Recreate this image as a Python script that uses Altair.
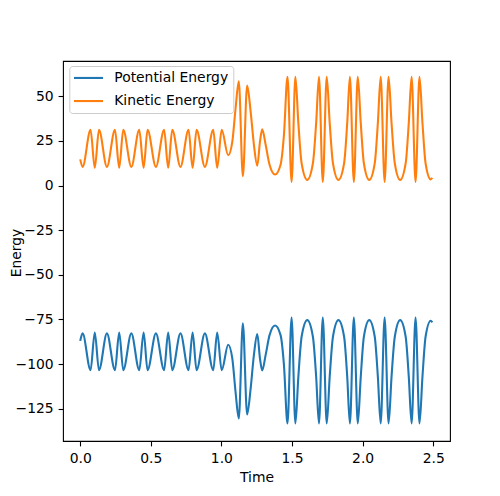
import altair as alt
import pandas as pd

# ---- data ----
time = [
    0.000, 0.017, 0.073, 0.103, 0.133, 0.189, 0.246, 0.276, 0.305, 0.362,
    0.418, 0.449, 0.477, 0.536, 0.594, 0.623, 0.652, 0.710, 0.767, 0.796,
    0.824, 0.883, 0.942, 0.970, 1.002, 1.048, 1.077, 1.100, 1.123, 1.152,
    1.182, 1.207, 1.230, 1.254, 1.273, 1.289, 1.313, 1.341, 1.380, 1.419,
    1.443, 1.468, 1.497, 1.524, 1.545, 1.568, 1.608, 1.648, 1.671, 1.691,
    1.718, 1.746, 1.767, 1.790, 1.829, 1.869, 1.891, 1.910, 1.938, 1.966,
    1.987, 2.009, 2.047, 2.086, 2.108, 2.128, 2.156, 2.184, 2.205, 2.228,
    2.266, 2.305, 2.327, 2.347, 2.375, 2.403, 2.424, 2.446, 2.482, 2.494,
]
potential = [
    -87.0, -82.8, -103.4, -82.3, -103.4, -82.8, -103.4, -82.3, -103.4, -82.8,
    -103.4, -82.3, -103.4, -82.8, -103.4, -82.3, -103.4, -82.8, -103.4, -82.3,
    -103.4, -82.8, -103.4, -82.3, -103.4, -89.2, -96.8, -115.5, -130.5, -77.2,
    -128.2, -113.7, -95.0, -83.2, -96.8, -103.6, -95.0, -83.8, -78.4, -83.8,
    -100.6, -133.3, -73.9, -133.3, -107.0, -84.7, -75.4, -84.7, -107.0, -133.3,
    -73.9, -133.3, -107.0, -84.7, -75.4, -84.7, -107.0, -133.3, -73.9, -133.3,
    -107.0, -84.7, -75.4, -84.7, -107.0, -133.3, -73.9, -133.3, -107.0, -84.7,
    -75.4, -84.7, -107.0, -133.3, -73.9, -133.3, -107.0, -84.7, -75.7, -76.6,
]
kinetic = [
    14.7, 10.5, 31.2, 10.0, 31.2, 10.5, 31.2, 10.0, 31.2, 10.5,
    31.2, 10.0, 31.2, 10.5, 31.2, 10.0, 31.2, 10.5, 31.2, 10.0,
    31.2, 10.5, 31.2, 10.0, 31.2, 17.0, 24.5, 43.0, 58.5, 5.2,
    56.0, 41.5, 23.0, 11.2, 24.5, 31.5, 23.0, 11.7, 6.2, 11.7,
    28.5, 61.0, 2.0, 61.0, 35.0, 12.5, 3.2, 12.5, 35.0, 61.0,
    2.0, 61.0, 35.0, 12.5, 3.2, 12.5, 35.0, 61.0, 2.0, 61.0,
    35.0, 12.5, 3.2, 12.5, 35.0, 61.0, 2.0, 61.0, 35.0, 12.5,
    3.2, 12.5, 35.0, 61.0, 2.0, 61.0, 35.0, 12.5, 3.5, 4.3,
]
series_names = ["Potential Energy", "Kinetic Energy"]
series_colors = ["#1f77b4", "#ff7f0e"]
x_ticks = [0.0, 0.5, 1.0, 1.5, 2.0, 2.5]
y_ticks = [50, 25, 0, -25, -50, -75, -100, -125]

n = len(time)
df = pd.DataFrame({
    "Time": time + time,
    "Energy": potential + kinetic,
    "Series": [series_names[0]] * n + [series_names[1]] * n,
})

FONT = "DejaVu Sans"
FS = 13.9
LW = 2.08

chart = alt.Chart(df).mark_line(
    interpolate="monotone", strokeWidth=LW, clip=True
).encode(
    x=alt.X(
        "Time:Q",
        scale=alt.Scale(domain=[-0.122, 2.619], nice=False, zero=False),
        axis=alt.Axis(
            values=x_ticks, format=".1f", title="Time",
            labelFlush=False,
            titleX=193.5, titleY=40.8, titleBaseline="alphabetic",
            titleAlign="center",
        ),
    ),
    y=alt.Y(
        "Energy:Q",
        scale=alt.Scale(domain=[-143.1, 69.8], nice=False, zero=False),
        axis=alt.Axis(
            values=y_ticks,
            labelExpr="datum.value < 0 ? '\u2212' + format(-datum.value, 'd') : format(datum.value, 'd')",
            title="Energy",
            titleAngle=270, titleX=-42.5, titleY=191.5,
            titleAlign="center", titleBaseline="alphabetic",
        ),
    ),
    color=alt.Color(
        "Series:N",
        scale=alt.Scale(domain=series_names, range=series_colors),
        legend=alt.Legend(
            title=None, orient="none", legendX=6.3, legendY=5,
            direction="vertical",
            symbolType="M-2.9,0H2.9", symbolSize=100, symbolStrokeWidth=LW,
            symbolOffset=7.25, labelOffset=18.8,
            labelFont=FONT, labelFontSize=FS, labelColor="black",
            rowPadding=8.1, padding=5,
            strokeColor="#cccccc", fillColor="white", cornerRadius=3,
        ),
    ),
).properties(
    width=387, height=380,
    padding={"left": 55, "top": 53, "right": 42, "bottom": 48},
    autosize=alt.AutoSizeParams(type="none"),
).configure_view(
    stroke="black", strokeWidth=1.1
).configure_axis(
    grid=False, domain=False,
    ticks=True, tickSize=4.9, tickWidth=1.1, tickColor="black",
    labelFont=FONT, labelFontSize=FS, labelColor="black",
    titleFont=FONT, titleFontSize=FS, titleFontWeight="normal", titleColor="black",
).configure_axisX(
    labelPadding=5.5
).configure_axisY(
    labelPadding=4.9
)

chart.save("out.html", embed_options={"renderer": "svg", "actions": False})
